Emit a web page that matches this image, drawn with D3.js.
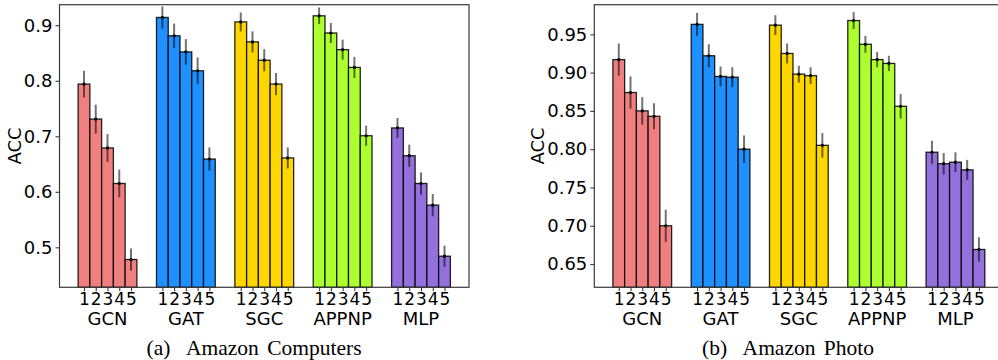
<!DOCTYPE html>
<html>
<head>
<meta charset="utf-8">
<script src="https://cdn.jsdelivr.net/npm/d3@7/dist/d3.min.js"></script>
<style>
  body { margin: 0; background: #fff; }
  svg { display: block; }
  .tick text { font-family: "DejaVu Sans", sans-serif; fill: #000; }
</style>
</head>
<body>
<svg id="chart" width="998" height="360"></svg>
<script>
// data
var models = ["GCN", "GAT", "SGC", "APPNP", "MLP"];
var settings = ["1", "2", "3", "4", "5"];
var colors = ["#F08080", "#1E90FF", "#FFD700", "#ADFF2F", "#9370DB"];

var computersAcc = [
    [0.794, 0.731, 0.679, 0.615, 0.478],
    [0.914, 0.881, 0.852, 0.818, 0.659],
    [0.906, 0.870, 0.837, 0.794, 0.661],
    [0.917, 0.886, 0.856, 0.824, 0.701],
    [0.715, 0.665, 0.615, 0.576, 0.484]
];
var computersStd = [
    [0.024, 0.026, 0.025, 0.025, 0.020],
    [0.020, 0.022, 0.023, 0.024, 0.021],
    [0.017, 0.019, 0.020, 0.020, 0.019],
    [0.015, 0.018, 0.018, 0.019, 0.018],
    [0.018, 0.020, 0.020, 0.020, 0.019]
];
var computersTicks = [0.5, 0.6, 0.7, 0.8, 0.9];

var photoAcc = [
    [0.917, 0.874, 0.850, 0.843, 0.700],
    [0.963, 0.922, 0.895, 0.894, 0.800],
    [0.962, 0.925, 0.898, 0.896, 0.805],
    [0.968, 0.937, 0.917, 0.912, 0.856],
    [0.796, 0.781, 0.783, 0.773, 0.669]
];
var photoStd = [
    [0.021, 0.021, 0.018, 0.017, 0.021],
    [0.015, 0.015, 0.013, 0.013, 0.018],
    [0.013, 0.013, 0.011, 0.011, 0.016],
    [0.011, 0.011, 0.010, 0.010, 0.016],
    [0.015, 0.014, 0.013, 0.013, 0.016]
];
var photoTicks = [0.65, 0.70, 0.75, 0.80, 0.85, 0.90, 0.95];

var svg = d3.select("#chart");
var barW = 0.15;
var fontPx = "18px";

function drawPanel(opt) {
    var g = svg.append("g");
    var x = d3.scaleLinear()
        .domain([-0.2375, 4.75 + 0.2375])
        .range([opt.left, opt.right]);
    var y = d3.scaleLinear()
        .domain(opt.yDomain)
        .range([opt.bottom, opt.top]);

    var rows = [];
    opt.acc.forEach(function (vals, gi) {
        vals.forEach(function (v, j) {
            rows.push({ g: gi, j: j, v: v, s: opt.std[gi][j], x0: gi + j * barW });
        });
    });

    // bars
    g.selectAll("rect.bar").data(rows).enter().append("rect")
        .attr("class", "bar")
        .attr("x", function (d) { return x(d.x0); })
        .attr("width", function (d) { return x(d.x0 + barW) - x(d.x0); })
        .attr("y", function (d) { return y(d.v); })
        .attr("height", function (d) { return opt.bottom - y(d.v); })
        .attr("fill", function (d) { return colors[d.g]; })
        .attr("stroke", "#000")
        .attr("stroke-opacity", 0.85)
        .attr("stroke-width", 1.3);

    // error bars
    g.selectAll("line.err").data(rows).enter().append("line")
        .attr("class", "err")
        .attr("x1", function (d) { return x(d.x0 + barW / 2); })
        .attr("x2", function (d) { return x(d.x0 + barW / 2); })
        .attr("y1", function (d) { return y(d.v - d.s); })
        .attr("y2", function (d) { return Math.max(y(d.v + d.s), opt.top); })
        .attr("stroke", "#000")
        .attr("stroke-opacity", 0.55)
        .attr("stroke-width", 2);
    g.selectAll("circle.pt").data(rows).enter().append("circle")
        .attr("class", "pt")
        .attr("cx", function (d) { return x(d.x0 + barW / 2); })
        .attr("cy", function (d) { return y(d.v); })
        .attr("r", 1.6)
        .attr("fill", "#000");

    // frame
    g.append("rect")
        .attr("x", opt.left).attr("y", opt.top)
        .attr("width", opt.right - opt.left).attr("height", opt.bottom - opt.top)
        .attr("fill", "none").attr("stroke", "#3a3a3a").attr("stroke-width", 1.2);

    var yAxis = g.append("g")
        .attr("transform", "translate(" + opt.left + ",0)")
        .call(d3.axisLeft(y).tickValues(opt.ticks).tickFormat(d3.format(opt.fmt))
            .tickSize(4).tickPadding(3));
    yAxis.select(".domain").remove();
    yAxis.selectAll(".tick line").attr("stroke", "#3a3a3a").attr("stroke-width", 1.1);
    yAxis.selectAll(".tick text").style("font-size", fontPx);

    var centers = rows.map(function (d) { return d.x0 + barW / 2; });
    var xAxis = g.append("g")
        .attr("transform", "translate(0," + opt.bottom + ")")
        .call(d3.axisBottom(x).tickValues(centers)
            .tickFormat(function (d, i) { return settings[i % 5]; })
            .tickSize(4).tickPadding(1.5));
    xAxis.select(".domain").remove();
    xAxis.selectAll(".tick line").attr("stroke", "#3a3a3a").attr("stroke-width", 1.1);
    xAxis.selectAll(".tick text").style("font-size", "17px");

    g.selectAll("text.model").data(models).enter().append("text")
        .attr("class", "model")
        .attr("x", function (d, i) { return x(i + 2 * barW + barW / 2); })
        .attr("y", opt.bottom + 38)
        .attr("text-anchor", "middle")
        .style("font-family", "DejaVu Sans, sans-serif")
        .style("font-size", fontPx)
        .text(function (d) { return d; });

    g.append("text")
        .attr("transform", "translate(" + opt.yLabelX + "," + ((opt.top + opt.bottom) / 2) + ") rotate(-90)")
        .attr("text-anchor", "middle")
        .attr("dy", "0.35em")
        .style("font-family", "DejaVu Sans, sans-serif")
        .style("font-size", fontPx)
        .text("ACC");

    g.append("text")
        .attr("x", opt.captionX)
        .attr("y", 355)
        .attr("text-anchor", "middle")
        .style("font-family", "Liberation Serif, Times New Roman, serif")
        .style("font-size", "21.5px")
        .style("word-spacing", "3px")
        .text(opt.caption);
}

drawPanel({
    left: 59.5, right: 469, top: 4.7, bottom: 287.3,
    yDomain: [0.428, 0.937],
    acc: computersAcc, std: computersStd,
    ticks: computersTicks, fmt: ".1f",
    yLabelX: 15, captionX: 254,
    caption: "(a)\u00a0 Amazon Computers"
});

drawPanel({
    left: 594.3, right: 1003.4, top: 4.7, bottom: 287.3,
    yDomain: [0.6196, 0.9887],
    acc: photoAcc, std: photoStd,
    ticks: photoTicks, fmt: ".2f",
    yLabelX: 538, captionX: 788,
    caption: "(b)\u00a0 Amazon Photo"
});
</script>
</body>
</html>
